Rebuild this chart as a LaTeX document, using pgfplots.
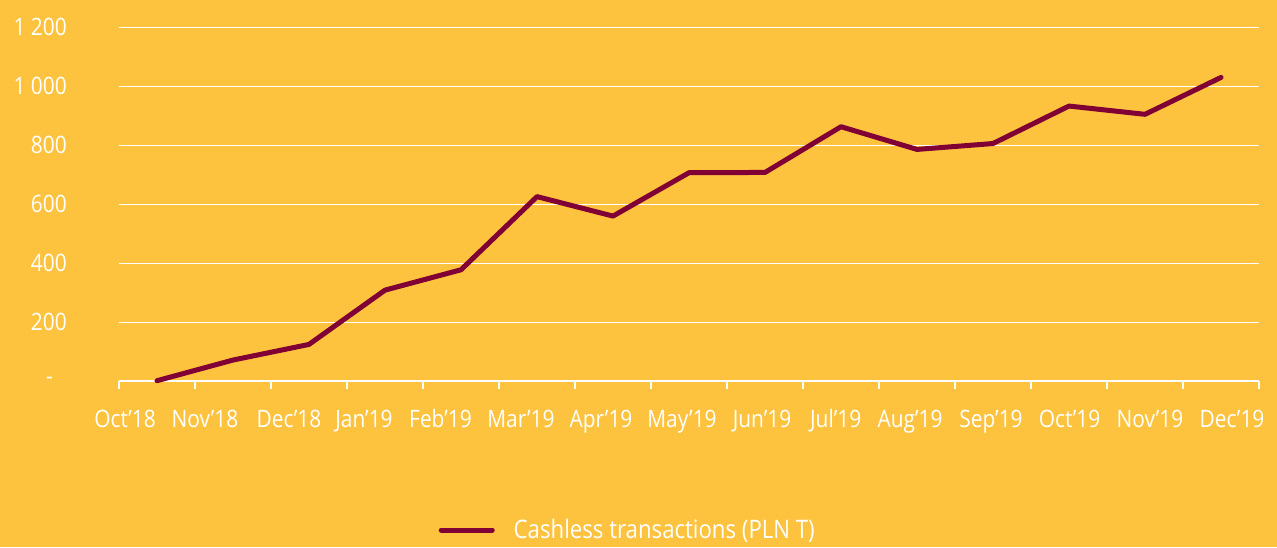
\documentclass[border=0pt]{standalone}
\usepackage{fontspec}
\setmainfont{Open Sans}[FakeStretch=0.87]
\usepackage{pgfplots}
\pgfplotsset{compat=1.18}
\definecolor{bg}{HTML}{FDC33F}
\definecolor{maroon}{HTML}{800035}
\begin{document}
\begin{tikzpicture}
\useasboundingbox (0,0) rectangle (1277pt,547pt);
\clip (0,0) rectangle (1277pt,547pt);
\fill[bg] (0,0) rectangle (1277pt,547pt);
\begin{axis}[
  at={(119pt,166pt)}, anchor=south west,
  scale only axis, width=1140pt, height=354pt,
  xmin=-0.5, xmax=14.5, ymin=0, ymax=1200,
  enlargelimits=false, clip=false,
  axis x line*=bottom, axis y line*=left,
  x axis line style={white, line width=2pt, -},
  y axis line style={draw=none},
  xtick={-0.421,0.632,1.737,2.724,3.730,4.789,5.842,6.908,7.961,8.93,9.908,10.974,12.007,13.066,14.145},
  xticklabels={Oct’18,Nov’18,Dec’18,Jan’19,Feb’19,Mar’19,Apr’19,May’19,Jun’19,Jul’19,Aug’19,Sep’19,Oct’19,Nov’19,Dec’19},
  minor xtick={-0.5,0.5,...,14.5},
  major tick length=0pt,
  minor tick length=8pt,
  tick align=outside,
  every minor tick/.style={white, line width=2pt},
  ytick={0,200,400,600,800,1000,1200},
  yticklabels={-\rule{14pt}{0pt},200,400,600,800,1 000,1 200},
  ymajorgrids,
  major grid style={white, line width=1pt},
  xticklabel style={anchor=base, yshift=-46pt, text=white, font=\fontsize{24}{28}\selectfont},
  yticklabel style={anchor=east, inner sep=0pt, xshift=-52pt, text=white, font=\fontsize{24}{28}\selectfont},
  legend image code/.code={\draw[#1, line width=5pt, line cap=round] (0pt,0pt) -- (51pt,0pt);},
  legend style={at={(0.2803,-0.421)}, anchor=west, draw=none, fill=none, inner sep=0pt,
    font=\fontsize{25.5}{29}\selectfont, text=white, nodes={text=white, inner sep=0pt},
    /tikz/every odd column/.append style={column sep=19pt}},
]
\addplot[maroon, line width=5pt, line join=round, line cap=round] coordinates {
(0,1) (1,71) (2,124) (3,308) (4,377) (5,625) (6,559) (7,706) (8,707) (9,862) (10,785) (11,805) (12,932) (13,904) (14,1029)};
\addlegendentry{Cashless transactions (PLN T)}
\end{axis}
\end{tikzpicture}
\end{document}
